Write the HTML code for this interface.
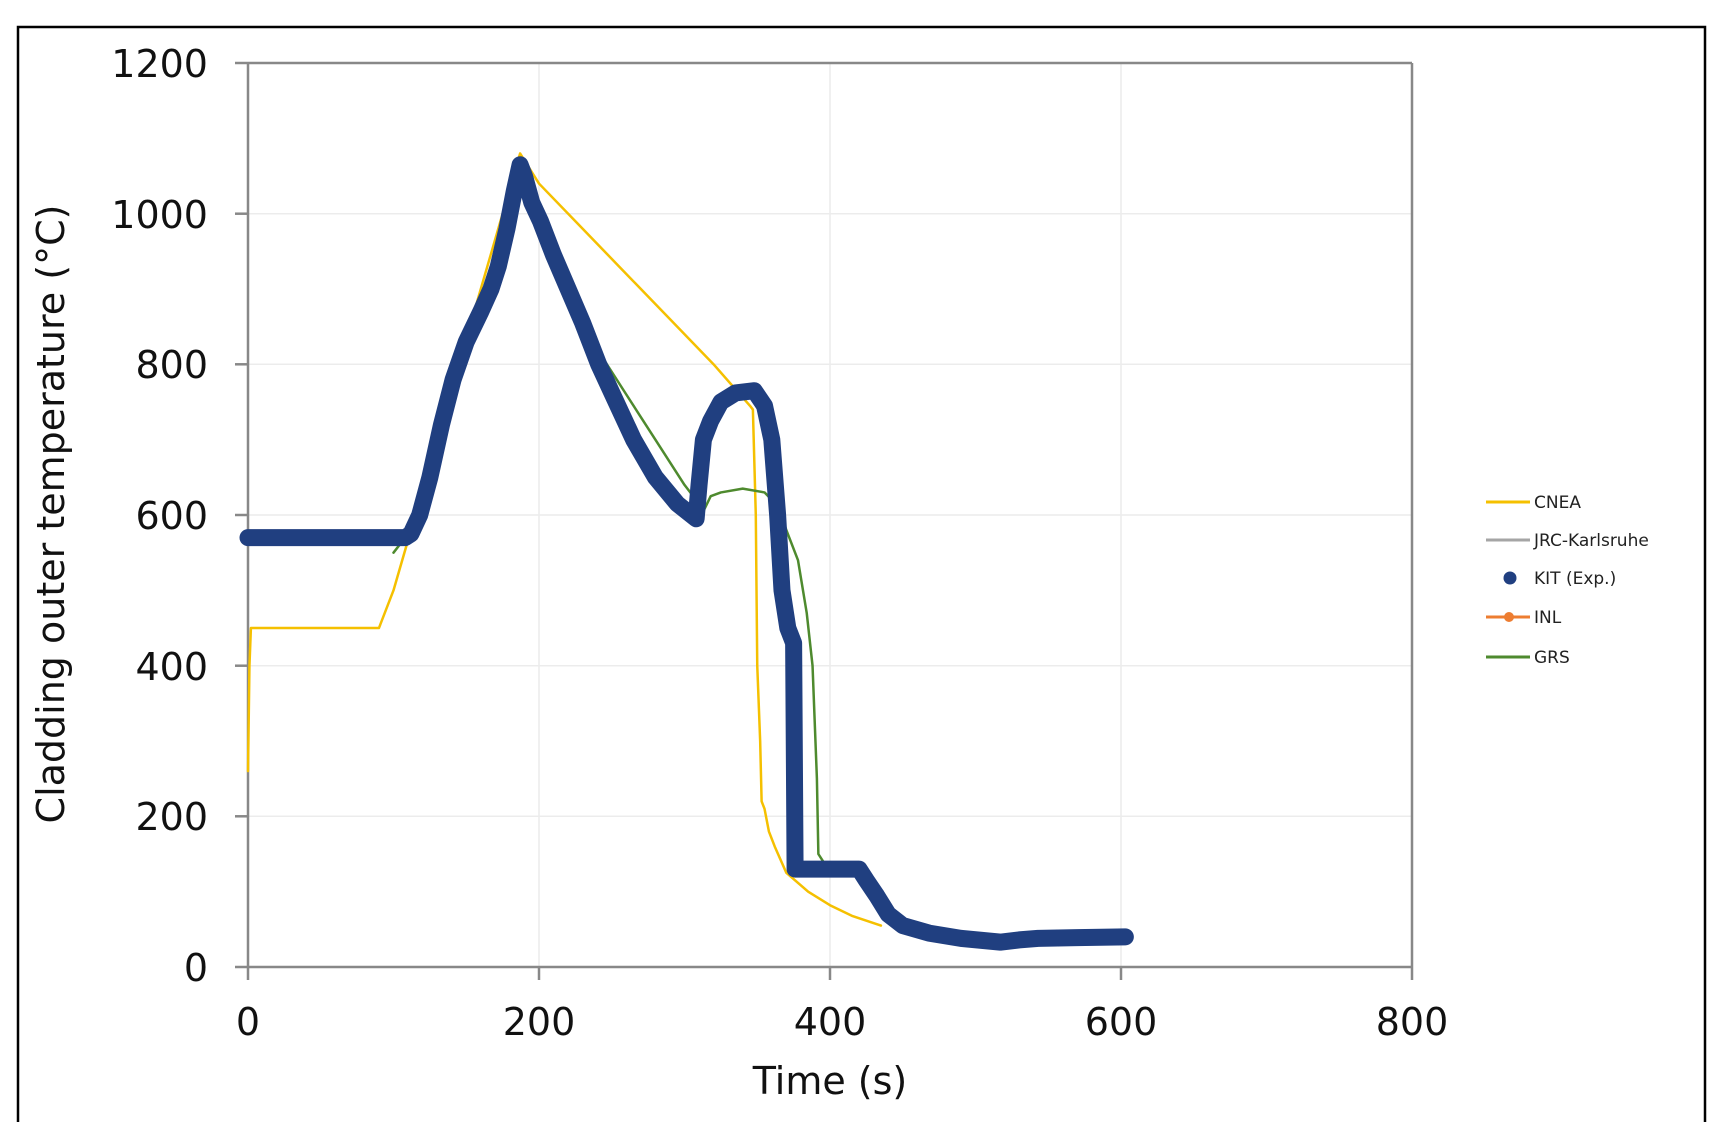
<!DOCTYPE html>
<html><head><meta charset="utf-8"><style>
body{margin:0;background:#fff;}
svg{display:block;font-family:"DejaVu Sans","Liberation Sans",sans-serif;}
</style></head><body>
<svg width="1714" height="1122" viewBox="0 0 1714 1122" xmlns="http://www.w3.org/2000/svg">
<rect x="0" y="0" width="1714" height="1122" fill="#fff"/>
<rect x="18" y="27" width="1687" height="1110" fill="none" stroke="#000" stroke-width="2.5"/>
<g stroke="#ececec" stroke-width="1.5">
<line x1="248" y1="213.7" x2="1412" y2="213.7"/>
<line x1="248" y1="364.3" x2="1412" y2="364.3"/>
<line x1="248" y1="515" x2="1412" y2="515"/>
<line x1="248" y1="665.7" x2="1412" y2="665.7"/>
<line x1="248" y1="816.3" x2="1412" y2="816.3"/>
<line x1="539" y1="63" x2="539" y2="967"/>
<line x1="830" y1="63" x2="830" y2="967"/>
<line x1="1121" y1="63" x2="1121" y2="967"/>
</g>
<g stroke="#888" stroke-width="2.5" fill="none">
<line x1="248" y1="63" x2="1412" y2="63"/>
<line x1="1412" y1="63" x2="1412" y2="980"/>
<line x1="248" y1="63" x2="248" y2="980"/>
<line x1="235" y1="967" x2="1412" y2="967"/>
<line x1="235" y1="63" x2="248" y2="63"/>
<line x1="235" y1="213.7" x2="248" y2="213.7"/>
<line x1="235" y1="364.3" x2="248" y2="364.3"/>
<line x1="235" y1="515" x2="248" y2="515"/>
<line x1="235" y1="665.7" x2="248" y2="665.7"/>
<line x1="235" y1="816.3" x2="248" y2="816.3"/>
<line x1="539" y1="967" x2="539" y2="980"/>
<line x1="830" y1="967" x2="830" y2="980"/>
<line x1="1121" y1="967" x2="1121" y2="980"/>
</g>
<g font-size="38" fill="#111" text-anchor="end">
<text x="208" y="77">1200</text>
<text x="208" y="228">1000</text>
<text x="208" y="378">800</text>
<text x="208" y="529">600</text>
<text x="208" y="680">400</text>
<text x="208" y="830">200</text>
<text x="208" y="981">0</text>
</g>
<g font-size="38" fill="#111" text-anchor="middle">
<text x="248" y="1035">0</text>
<text x="539" y="1035">200</text>
<text x="830" y="1035">400</text>
<text x="1121" y="1035">600</text>
<text x="1412" y="1035">800</text>
<text x="830" y="1094">Time (s)</text>
<text transform="translate(64,514) rotate(-90)">Cladding outer temperature (°C)</text>
</g>
<g transform="translate(248,967) scale(1.455,-0.7533)" fill="none" stroke-linejoin="round" stroke-linecap="round">
<polyline vector-effect="non-scaling-stroke" stroke="#f5c000" stroke-width="2.5" points="0,260 1,400 2,450 90,450 100,500 115,600 130,700 145,800 160,900 175,1000 187,1080 200,1040 230,980 260,920 290,860 320,800 345,745 347,740 349,600 350,400 352,300 353,220 355,210 358,180 362,160 370,125 385,100 400,82 415,68 435,55"/>
<polyline vector-effect="non-scaling-stroke" stroke="#4e8a2e" stroke-width="2.5" points="100,550 110,575 120,620 130,690 140,770 150,830 160,880 170,930 180,1000 188,1050 195,1010 210,940 225,880 240,820 260,760 280,700 300,640 308,620 313,605 318,625 325,630 340,635 355,630 365,610 370,580 378,540 384,470 388,400 391,250 392,150 396,138 420,135"/>
<polyline vector-effect="non-scaling-stroke" stroke="#ed7d31" stroke-width="3" points="105,570 115,580 125,620 135,700 145,780"/>
<polyline vector-effect="non-scaling-stroke" stroke="#203f80" stroke-width="17" points="0,570 108,570 112,575 118,600 125,650 133,720 141,780 150,830 160,870 167,900 172,930 178,980 183,1030 187,1065 190,1050 195,1015 201,990 210,945 220,900 230,855 241,800 253,750 265,700 280,650 295,615 308,595 310,640 313,700 318,725 325,750 335,762 348,765 355,745 360,700 364,600 367,500 371,450 375,430 376,130 420,130 425,115 432,95 440,70 450,55 468,45 490,38 517,33 530,36 543,38 570,39 603,40"/>
</g>
<g font-size="17" fill="#222">
<line x1="1486" y1="502" x2="1530" y2="502" stroke="#f5c000" stroke-width="3"/>
<text x="1534" y="508">CNEA</text>
<line x1="1486" y1="540" x2="1530" y2="540" stroke="#a5a5a5" stroke-width="3"/>
<text x="1534" y="546">JRC-Karlsruhe</text>
<circle cx="1510" cy="578" r="6.5" fill="#203f80"/>
<text x="1534" y="584">KIT (Exp.)</text>
<line x1="1486" y1="617" x2="1530" y2="617" stroke="#ed7d31" stroke-width="3"/>
<circle cx="1509" cy="617" r="5" fill="#ed7d31"/>
<text x="1534" y="623">INL</text>
<line x1="1486" y1="657" x2="1530" y2="657" stroke="#4e8a2e" stroke-width="3"/>
<text x="1534" y="663">GRS</text>
</g>
</svg>
</body></html>
